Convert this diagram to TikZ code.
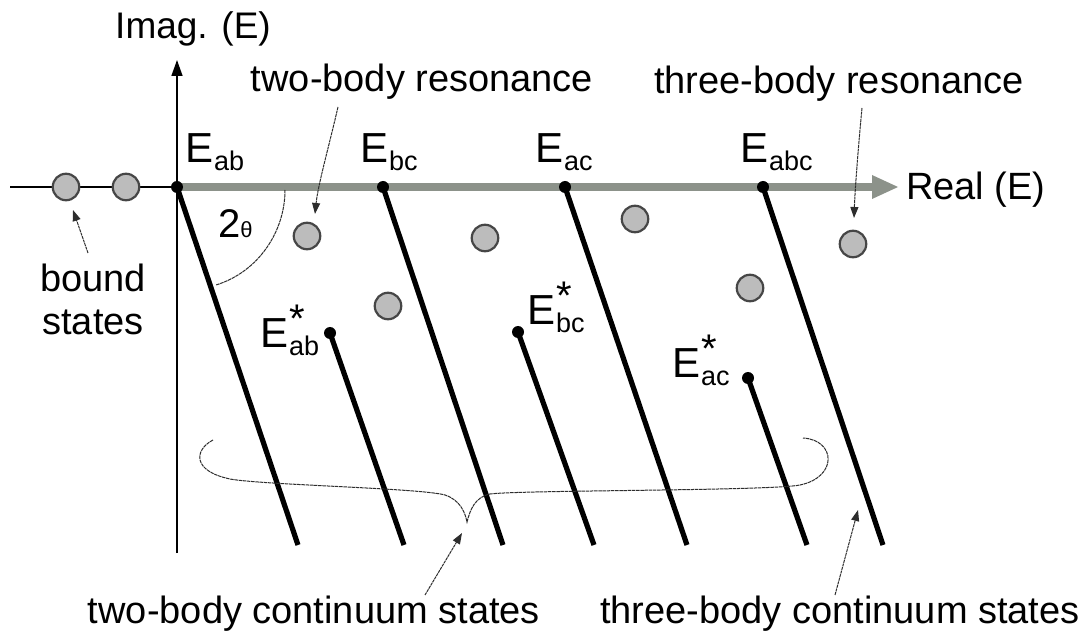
\documentclass[tikz,border=0pt]{standalone}
\usepackage{fontspec}
\setmainfont{Liberation Sans}
\usetikzlibrary{arrows.meta}
\definecolor{axisgray}{RGB}{140,146,138}
\definecolor{resfill}{RGB}{188,188,188}
\definecolor{resline}{RGB}{70,70,70}
\definecolor{ptrgray}{RGB}{45,45,45}
\newcommand\Esub[1]{E\kern1pt\raisebox{-8pt}{\fontsize{27}{28}\selectfont #1}}
\newcommand\Estar[1]{E\kern1pt\rlap{\raisebox{15pt}{\fontsize{40}{40}\selectfont *}}\raisebox{-8pt}{\fontsize{27}{28}\selectfont #1}}
\begin{document}
\begin{tikzpicture}[x=1pt,y=-1pt,
  lbl/.style={font=\fontsize{38}{43}\selectfont, inner sep=0pt},
  elbl/.style={font=\fontsize{42}{44}\selectfont, inner sep=0pt, anchor=base west},
  pole/.style={circle, fill=black, inner sep=0pt, minimum size=12pt},
  res/.style={circle, draw=resline, fill=resfill, line width=2.2pt, inner sep=0pt, minimum size=26.5pt},
  cont/.style={line width=5.2pt},
  ptr/.style={draw=ptrgray, line width=1pt, dash pattern=on 3pt off 0.7pt, -{Triangle[length=11pt,width=8pt]}},
  guide/.style={draw=ptrgray, line width=1pt, dash pattern=on 3.5pt off 0.7pt}
]
\useasboundingbox (0,0) rectangle (1085,636);

% axes
\coordinate (xl) at (10,187);
\coordinate (o) at (177,187);
\coordinate (xe) at (874,187);
\coordinate (xt) at (898,187);
\coordinate (yb) at (177,553);
\coordinate (yt) at (177,60);
\draw[line width=1.5pt] (xl) -- (o);
\draw[line width=8pt, axisgray] (o) -- (xe);
\fill[axisgray] (872,175) -- (xt) -- (872,199) -- cycle;
\draw[line width=1.5pt, -{Triangle[length=16pt,width=11pt]}] (yb) -- (yt);

% continuum lines
\node[pole] (Eab) at (177,187) {};
\node[pole] (Ebc) at (383,187) {};
\node[pole] (Eac) at (565,187) {};
\node[pole] (Eabc) at (763,187) {};
\node[pole] (Eabs) at (330,333) {};
\node[pole] (Ebcs) at (518,332) {};
\node[pole] (Eacs) at (748,378) {};
\coordinate (eEab) at (298,545);
\coordinate (eEbc) at (503,545);
\coordinate (eEac) at (687,545);
\coordinate (eEabc) at (883,545);
\coordinate (eEabs) at (404,545);
\coordinate (eEbcs) at (594,545);
\coordinate (eEacs) at (807,545);
\draw[cont] (Eab.center) -- (eEab);
\draw[cont] (Ebc.center) -- (eEbc);
\draw[cont] (Eac.center) -- (eEac);
\draw[cont] (Eabc.center) -- (eEabc);
\draw[cont] (Eabs.center) -- (eEabs);
\draw[cont] (Ebcs.center) -- (eEbcs);
\draw[cont] (Eacs.center) -- (eEacs);

% bound states and resonances
\node[res] (b1) at (66,187) {};
\node[res] (b2) at (126,187) {};
\node[res] (r1) at (307,236) {};
\node[res] (r2) at (388,306) {};
\node[res] (r3) at (485,238) {};
\node[res] (r4) at (635,219) {};
\node[res] (r5) at (750,288) {};
\node[res] (r6) at (853,244) {};

% angle arc
\coordinate (a0) at (285,190);
\coordinate (a1) at (216,285);
\draw[guide] (a0) .. controls (285,232) and (258,272) .. (a1);
\node[lbl, anchor=base west, font=\fontsize{40}{44}\selectfont] (th) at (218,238) {2{\fontsize{22}{24}\selectfont θ}};

% labels
\node[lbl, anchor=base, font=\fontsize{37}{40}\selectfont] (imag) at (193,39) {Imag. (E)};
\node[lbl, anchor=base west] (real) at (906,200) {Real (E)};
\node[lbl, anchor=base] (tbr) at (422,92) {two-body resonance};
\node[lbl, anchor=base] (thr) at (839,94) {three-body resonance};
\node[lbl, anchor=north, align=center] (bs) at (93,264) {bound\\states};
\node[lbl, anchor=base] (tbc) at (314,623) {two-body continuum states};
\node[lbl, anchor=base] (thc) at (840,623) {three-body continuum states};

\node[elbl] (lEab) at (185,163) {\Esub{ab}};
\node[elbl] (lEbc) at (360,163) {\Esub{bc}};
\node[elbl] (lEac) at (535,163) {\Esub{ac}};
\node[elbl] (lEabc) at (740,163) {\Esub{abc}};
\node[elbl] (lEabs) at (260,348) {\Estar{ab}};
\node[elbl] (lEbcs) at (527,325) {\Estar{bc}};
\node[elbl] (lEacs) at (672,378) {\Estar{ac}};

% brace
\coordinate (br0) at (213,440);
\coordinate (brt) at (467,522);
\coordinate (br1) at (803,438);
\draw[guide] (br0) .. controls (194,450) and (192,471) .. (230,479)
  .. controls (262,485) and (420,488) .. (445,495)
  .. controls (460,500) and (465,512) .. (brt)
  .. controls (470,510) and (475,497) .. (490,494)
  .. controls (520,490) and (770,491) .. (800,485)
  .. controls (838,477) and (836,440) .. (br1);

% pointers
\coordinate (pb) at (88,253);
\coordinate (p1) at (338,107);
\coordinate (p2) at (862,108);
\coordinate (p3) at (425,595);
\coordinate (p4) at (835,595);
\coordinate (q4) at (858,510);
\draw[ptr] (pb) -- ([shift={(7,23)}]b1.center);
\draw[ptr] (p1) .. controls (328,150) and (318,185) .. ([shift={(8,-22)}]r1.center);
\draw[ptr] (p2) .. controls (858,150) and (855,190) .. ([shift={(1,-26)}]r6.center);
\draw[ptr] (p3) -- ([shift={(-5,11)}]brt);
\draw[ptr] (p4) -- (q4);
\end{tikzpicture}
\end{document}
